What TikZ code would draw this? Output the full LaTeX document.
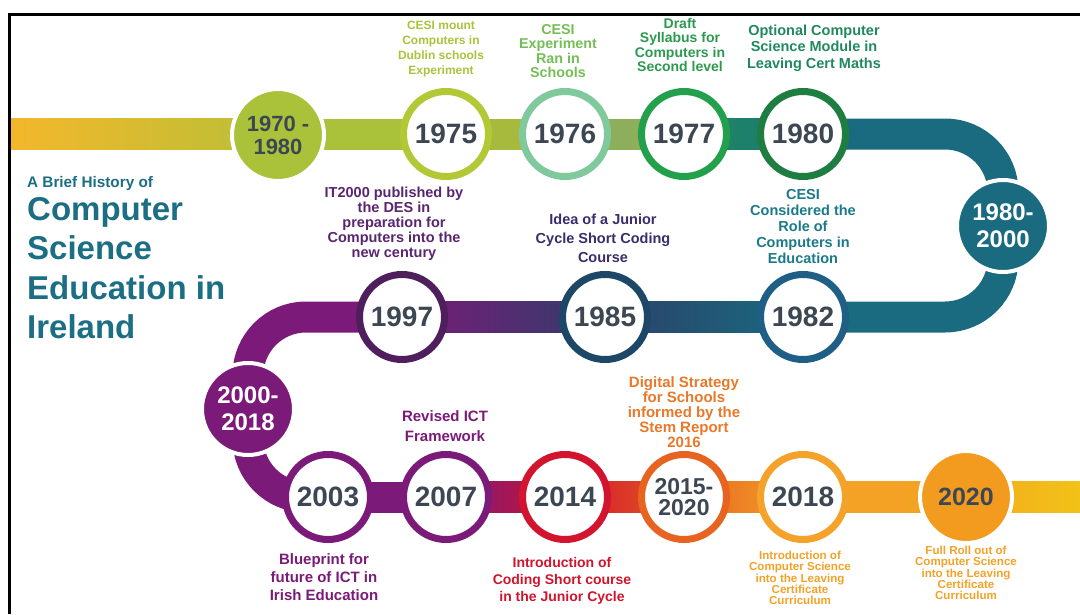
\documentclass[tikz,border=0pt]{standalone}
\usepackage{fontspec}
\setmainfont{Liberation Sans}
\newcommand{\fsz}[2]{\bfseries\fontsize{#1}{#2}\selectfont}
\definecolor{cYear}{HTML}{3D4753}
\definecolor{cLime}{HTML}{A9C23A}
\definecolor{cR1975}{HTML}{B3C835}
\definecolor{cR1976}{HTML}{80C99C}
\definecolor{cR1977}{HTML}{22A04B}
\definecolor{cR1980}{HTML}{1E7D40}
\definecolor{cTeal}{HTML}{1A6B80}
\definecolor{cR1982}{HTML}{1F5F86}
\definecolor{cR1985}{HTML}{1D4767}
\definecolor{cR1997}{HTML}{4E1F5C}
\definecolor{cPurple}{HTML}{7B1A78}
\definecolor{cR2014}{HTML}{D2142E}
\definecolor{cR2015}{HTML}{E6641F}
\definecolor{cR2018}{HTML}{F4A22A}
\definecolor{cOrange}{HTML}{F29B1F}
\definecolor{cStartY}{HTML}{F4B72B}
\definecolor{cEndY}{HTML}{F2C219}
\definecolor{cOlive}{HTML}{A8BA3E}
\definecolor{cOlive2}{HTML}{8DAE5A}
\definecolor{tL1975}{HTML}{A9C33B}
\definecolor{tL1976}{HTML}{74BF55}
\definecolor{tL1977}{HTML}{2B9A4F}
\definecolor{tL1980}{HTML}{20895E}
\definecolor{tL1997}{HTML}{5A2570}
\definecolor{tL1985}{HTML}{3A2D6B}
\definecolor{tL1982}{HTML}{1A7A8A}
\definecolor{tL2014}{HTML}{D0142C}
\definecolor{tL2015}{HTML}{E8782A}
\definecolor{tL2018}{HTML}{F3A227}
\definecolor{tTitle}{HTML}{1B6E83}
\begin{document}
\begin{tikzpicture}[x=1pt,y=-1pt,
  yring/.style={circle, draw=#1, line width=7pt, fill=white, minimum size=85pt,
    inner sep=0pt, text=cYear, font=\fsz{28}{28}, align=center},
  yfill/.style={circle, fill=#1, draw=white, line width=4pt, minimum size=92pt,
    inner sep=0pt, align=center},
  lbl/.style={align=center, inner sep=0pt, text=#1},
  bandline/.style={draw=#1, line width=31pt}]
\useasboundingbox (0,0) rectangle (1080,614);
% positions
\coordinate (pStart) at (11,134);
\coordinate (pB1970) at (278,134);
\coordinate (p1970) at (278,135);
\coordinate (p1975) at (446,134);
\coordinate (p1976) at (565,134);
\coordinate (p1977) at (684,134);
\coordinate (p1980) at (803,134);
\coordinate (p8000) at (1003,226);
\coordinate (p1982) at (803,317);
\coordinate (p1985) at (605,317);
\coordinate (p1997) at (402,317);
\coordinate (p0018) at (248,409);
\coordinate (p2003) at (328,497);
\coordinate (p2007) at (446,497);
\coordinate (p2014) at (565,497);
\coordinate (p2015) at (684,497);
\coordinate (p2018) at (803,497);
\coordinate (p2020) at (966,497);
\coordinate (pEnd) at (1080,497);
% band, top row
\fill[left color=cStartY, right color=cLime!80!cStartY] ([yshift=15.5pt]pStart) rectangle ([yshift=-15.5pt]pB1970);
\fill[color=cLime] ([yshift=15.5pt]pB1970) rectangle ([yshift=-15.5pt]p1975);
\fill[color=cOlive] ([yshift=15.5pt]p1975) rectangle ([yshift=-15.5pt]p1976);
\fill[color=cOlive2] ([yshift=15.5pt]p1976) rectangle ([yshift=-15.5pt]p1977);
\fill[left color=cR1977!60!cTeal, right color=cTeal!80!cR1977] ([yshift=15.5pt]p1977) rectangle ([yshift=-15.5pt]p1980);
\draw[bandline=cTeal] (p1980) -- (945,134) arc[start angle=-90, end angle=0, radius=58]
  -- (p8000) -- (1003,259) arc[start angle=0, end angle=90, radius=58] -- (p1982);
% middle row
\fill[left color=cR1985!85!cPurple, right color=cTeal] ([yshift=15.5pt]p1985) rectangle ([yshift=-15.5pt]p1982);
\fill[left color=cPurple, right color=cR1985!80!cPurple] ([yshift=15.5pt]p1997) rectangle ([yshift=-15.5pt]p1985);
\draw[bandline=cPurple] (p1997) -- (306,317) arc[start angle=270, end angle=180, radius=58]
  -- (p0018) -- (248,439) arc[start angle=180, end angle=90, radius=58] -- (p2003);
% bottom row
\fill[color=cPurple] ([yshift=15.5pt]p2003) rectangle ([yshift=-15.5pt]p2007);
\fill[left color=cPurple, right color=cR2014!90!cPurple] ([yshift=15.5pt]p2007) rectangle ([yshift=-15.5pt]p2014);
\fill[left color=cR2014, right color=cR2015!90!cR2014] ([yshift=15.5pt]p2014) rectangle ([yshift=-15.5pt]p2015);
\fill[left color=cR2015, right color=cR2018] ([yshift=15.5pt]p2015) rectangle ([yshift=-15.5pt]p2018);
\fill[left color=cR2018, right color=cOrange!80!cEndY] ([yshift=15.5pt]p2018) rectangle ([yshift=-15.5pt]p2020);
\fill[left color=cOrange!60!cEndY, right color=cEndY] ([yshift=15.5pt]p2020) rectangle ([yshift=-15.5pt]pEnd);
% frame
\draw[line width=3.5pt] (9.5,614) -- (9.5,14.5) -- (1080,14.5);
% year circles
\node[yfill=cLime, text=cYear, font=\fsz{22}{23}] (n1970) at (p1970) {1970 -\\1980};
\node[yring=cR1975] (n1975) at (p1975) {1975};
\node[yring=cR1976] (n1976) at (p1976) {1976};
\node[yring=cR1977] (n1977) at (p1977) {1977};
\node[yring=cR1980] (n1980) at (p1980) {1980};
\node[yfill=cTeal, text=white, font=\fsz{24}{27}] (n8000) at (p8000) {1980-\\2000};
\node[yring=cR1982] (n1982) at (p1982) {1982};
\node[yring=cR1985] (n1985) at (p1985) {1985};
\node[yring=cR1997] (n1997) at (p1997) {1997};
\node[yfill=cPurple, text=white, font=\fsz{24}{27}] (n0018) at (p0018) {2000-\\2018};
\node[yring=cPurple] (n2003) at (p2003) {2003};
\node[yring=cPurple] (n2007) at (p2007) {2007};
\node[yring=cR2014] (n2014) at (p2014) {2014};
\node[yring=cR2015, font=\fsz{23}{21}] (n2015) at (p2015) {2015-\\2020};
\node[yring=cR2018] (n2018) at (p2018) {2018};
\node[yfill=cOrange, text=cYear, font=\fsz{25}{25}] (n2020) at (p2020) {2020};
% labels
\node[lbl=tL1975, font=\fsz{12}{15}] (l1975) at (441,49) {CESI mount\\Computers in\\Dublin schools\\Experiment};
\node[lbl=tL1976, font=\fsz{14.3}{14.5}] (l1976) at (558,51) {CESI\\Experiment\\Ran in\\Schools};
\node[lbl=tL1977, font=\fsz{14}{14.5}] (l1977) at (680,45) {Draft\\Syllabus for\\Computers in\\Second level};
\node[lbl=tL1980, font=\fsz{14.5}{16.5}] (l1980) at (814,48) {Optional Computer\\Science Module in\\Leaving Cert Maths};
\node[lbl=tL1997, font=\fsz{14.5}{15}] (l1997) at (394,224) {IT2000 published by\\the DES in\\preparation for\\Computers into the\\new century};
\node[lbl=tL1985, font=\fsz{14.5}{19}] (l1985) at (603,238) {Idea of a Junior\\Cycle Short Coding\\Course};
\node[lbl=tL1982, font=\fsz{14.5}{16}] (l1982) at (803,227) {CESI\\Considered the\\Role of\\Computers in\\Education};
\node[lbl=cPurple, font=\fsz{15}{19.5}] (l2007) at (445,426) {Revised ICT\\Framework};
\node[lbl=cPurple, font=\fsz{15}{18}] (l2003) at (324,577) {Blueprint for\\future of ICT in\\Irish Education};
\node[lbl=tL2014, font=\fsz{14}{17}] (l2014) at (562,581) {Introduction of\\Coding Short course\\in the Junior Cycle};
\node[lbl=tL2015, font=\fsz{15}{15}] (l2015) at (684,412) {Digital Strategy\\for Schools\\informed by the\\Stem Report\\2016};
\node[lbl=tL2018, font=\fsz{11.6}{11.4}] (l2018) at (800,578) {Introduction of\\Computer Science\\into the Leaving\\Certificate\\Curriculum};
\node[lbl=tL2018, font=\fsz{11.6}{11.4}] (l2020) at (966,573) {Full Roll out of\\Computer Science\\into the Leaving\\Certificate\\Curriculum};
% title
\node[lbl=tTitle, anchor=base west, font=\fsz{15.3}{18}] (tsub) at (27,187) {A Brief History of};
\node[align=left, inner sep=0pt, text=tTitle, anchor=north west, font=\fsz{33}{39.5}] (tmain) at (27,197) {Computer\\Science\\Education in\\Ireland};
\end{tikzpicture}
\end{document}
